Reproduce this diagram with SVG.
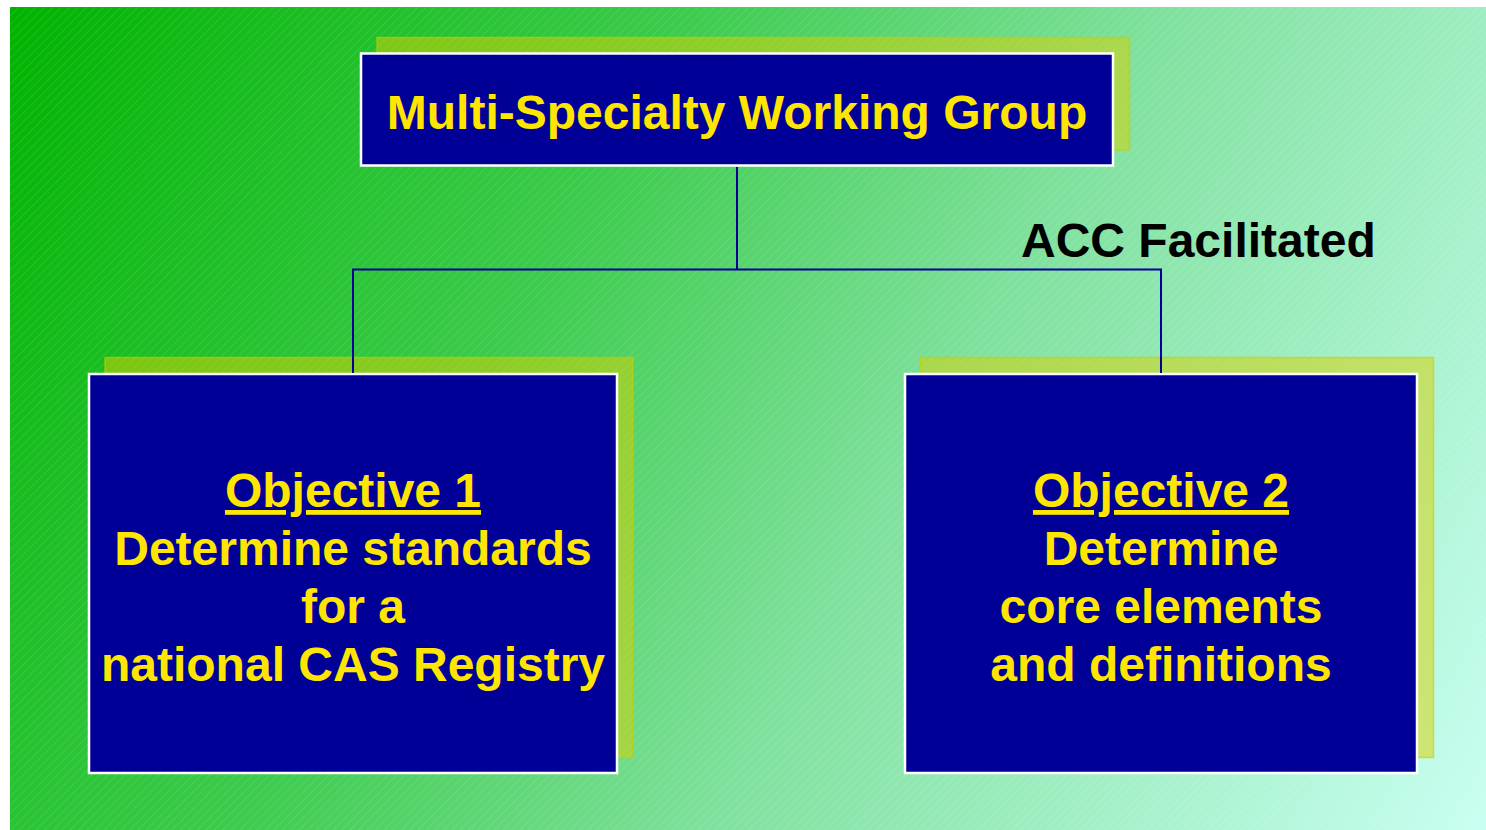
<svg xmlns="http://www.w3.org/2000/svg" width="1486" height="830" viewBox="0 0 1486 830">
<defs>
<linearGradient id="bg" x1="10" y1="7" x2="1486" y2="830" gradientUnits="userSpaceOnUse">
<stop offset="0" stop-color="#00b300"/>
<stop offset="0.35" stop-color="#3ccb4c"/>
<stop offset="0.6" stop-color="#80e19e"/>
<stop offset="1" stop-color="#c8fff2"/>
</linearGradient>
<pattern id="stripes" width="6" height="6" patternUnits="userSpaceOnUse" patternTransform="rotate(45)">
<line x1="0.5" y1="0" x2="0.5" y2="6" stroke="#ffffff" stroke-opacity="0.1" stroke-width="1"/>
</pattern>
<style>
.shadow{fill:#d9cf00;fill-opacity:0.5;stroke:#cccc00;stroke-opacity:0.6;stroke-width:1.5}
.box{fill:#000096;stroke:#ffffff;stroke-width:2.5}
.t{font-family:"Liberation Sans",Arial,sans-serif;font-weight:bold;font-size:48px;fill:#ffe600;text-anchor:middle}
.u{text-decoration:underline}
.conn{fill:none;stroke:#000099;stroke-width:2}
</style>
</defs>
<rect x="0" y="0" width="1486" height="830" fill="#ffffff"/>
<rect x="10" y="7" width="1476" height="823" fill="url(#bg)"/>
<rect x="10" y="7" width="1476" height="823" fill="url(#stripes)"/>
<g id="node-top">
<rect class="shadow" x="377" y="37.5" width="752.5" height="112.5"/>
<rect class="box" x="361" y="53.5" width="752" height="112"/>
<text class="t" x="737" y="129">Multi-Specialty Working Group</text>
</g>
<g id="label-acc">
<text x="1021" y="257" font-family="Liberation Sans, Arial, sans-serif" font-weight="bold" font-size="48" fill="#000000">ACC Facilitated</text>
</g>
<g id="node-obj1">
<rect class="shadow" x="105" y="357.5" width="528" height="400"/>
<rect class="box" x="89" y="374" width="528" height="399"/>
<text class="t u" x="353" y="507">Objective 1</text>
<text class="t" x="353" y="565">Determine standards</text>
<text class="t" x="353" y="623">for a</text>
<text class="t" x="353" y="681">national CAS Registry</text>
</g>
<g id="node-obj2">
<rect class="shadow" x="920" y="357.5" width="513.5" height="400"/>
<rect class="box" x="905" y="374" width="512" height="399"/>
<text class="t u" x="1161" y="507">Objective 2</text>
<text class="t" x="1161" y="565">Determine</text>
<text class="t" x="1161" y="623">core elements</text>
<text class="t" x="1161" y="681">and definitions</text>
</g>
<g id="connectors">
<polyline class="conn" points="737,167 737,269.5"/>
<polyline class="conn" points="353,373 353,269.5 1161,269.5 1161,373"/>
</g>
</svg>
